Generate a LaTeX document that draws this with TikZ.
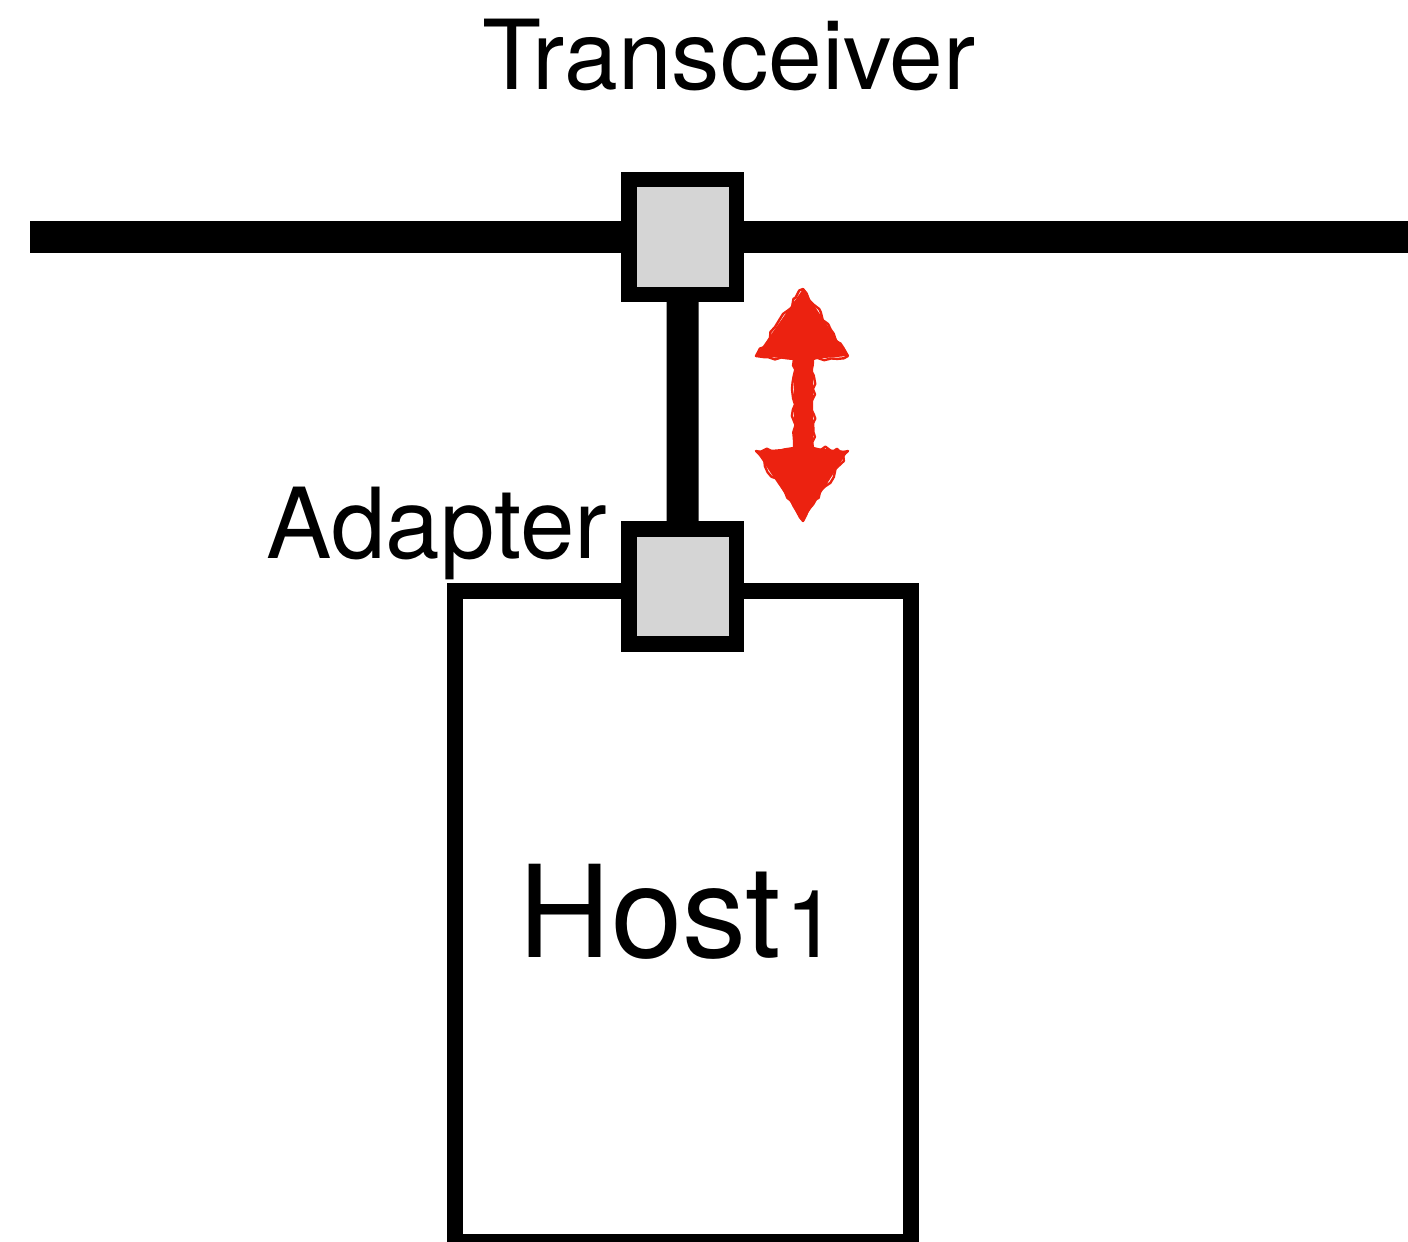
\documentclass[tikz,border=0pt]{standalone}
\usepackage{fontspec}
\setmainfont{TeX Gyre Heros}
\usetikzlibrary{decorations.pathmorphing,backgrounds}
\definecolor{boxgray}{HTML}{D5D5D5}
\definecolor{arrowred}{HTML}{EC2210}
\tikzset{
  portbox/.style={draw=black, fill=boxgray, line width=7.75pt, minimum width=53.75pt, minimum height=57.5pt, inner sep=0pt},
  hostbox/.style={draw=black, fill=white, line width=8pt, minimum width=228.25pt, minimum height=325.5pt, inner sep=0pt},
  wire/.style={line width=16pt, black},
  lbl/.style={inner sep=0pt, anchor=base},
}
\begin{document}
\begin{tikzpicture}[x=0.5pt, y=-0.5pt]
\useasboundingbox (0,0) rectangle (1408,1242);
\begin{scope}
\clip (0,0) rectangle (1408,1242);
\node[hostbox] (host) at (682.75,916.5) {};
\coordinate (busL) at (30,237);
\coordinate (busR) at (1420,237);
\node[portbox] (trans) at (682.75,237) {};
\node[portbox] (adapter) at (682.5,586.5) {};
\begin{scope}[on background layer]
\draw[wire] (busL) -- (trans.center) -- (busR);
\draw[wire] (trans.center) -- (adapter.center);
\end{scope}
\end{scope}
% labels
\node[lbl, font=\fontsize{48.3}{58}\selectfont] (tlabel) at (729,89) {Transceiver};
\node[lbl, font=\fontsize{49}{58}\selectfont] (alabel) at (437,558) {Adapter};
\node[lbl, font=\fontsize{64}{76}\selectfont] (hlabel) at (678,957) {Host\kern2pt{\fontsize{47}{56}\selectfont 1}};
% red double arrow (hand drawn look)
\pgfmathsetseed{7}
\fill[arrowred, line join=round]
  (803,289) -- (848,356) -- (813,359) -- (813,448) -- (848,451) -- (803,521)
  -- (756,451) -- (794,448) -- (794,359) -- (756,356) -- cycle;
\draw[arrowred, line width=1.2pt, decorate, decoration={random steps, segment length=3, amplitude=1.2}, line join=round]
  (803,289) -- (848,356) -- (813,359) -- (813,448) -- (848,451) -- (803,521)
  -- (756,451) -- (794,448) -- (794,359) -- (756,356) -- cycle;
\end{tikzpicture}
\end{document}
